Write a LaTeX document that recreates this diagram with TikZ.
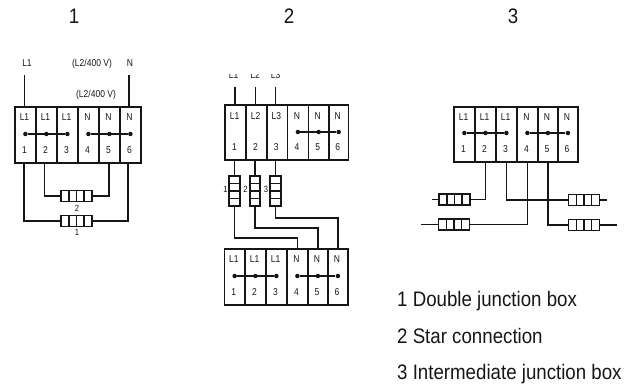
\documentclass[tikz,border=0pt]{standalone}
\usepackage{fontspec}
\setmainfont{Liberation Sans}
\newfontfamily\capfont[FakeStretch=0.89]{Liberation Sans}
\newfontfamily\labfont[FakeStretch=0.85]{Liberation Sans}
\definecolor{ink}{HTML}{161616}
\tikzset{
  x=1pt,y=-1pt,
  wire/.style={draw=ink,line width=1.8pt},
  bus/.style={draw=ink,line width=1.6pt},
  dot/.style={circle,fill=ink,inner sep=0pt,minimum size=4.5pt},
  small/.style={inner sep=0pt,text=ink,font=\labfont\fontsize{10}{12}\selectfont},
  tiny/.style={inner sep=0pt,text=ink,font=\labfont\fontsize{9}{11}\selectfont},
  caption/.style={inner sep=0pt,anchor=base west,text=ink,font=\capfont\fontsize{21}{24}\selectfont},
  title/.style={inner sep=0pt,anchor=base,text=ink,font=\capfont\fontsize{21}{24}\selectfont},
  res/.style={draw=ink,line width=1.8pt,fill=white,inner sep=0pt},
}
\newcommand{\tcell}[7]{% name, x0, x1, top, bottom, label, number
  \node[draw=ink,line width=1.8pt,inner sep=0pt,minimum width={#3-#2},minimum height={#5-#4},anchor=north west] (#1) at (#2,#4) {};
  \node[small] (#1l) at ({(#2+#3)/2},{#4+11.5}) {#6};
  \node[small] (#1n) at ({(#2+#3)/2},{#5-12}) {#7};
}
\newcommand{\hres}[3]{% name, cx, cy
  \node[res,minimum width=31pt,minimum height=11pt] (#1) at (#2,#3) {};
  \foreach \d in {-7.5,0,7.5}{\draw[ink,line width=1.8pt] ({#2+\d},{#3-5.5}) -- ({#2+\d},{#3+5.5});}
}
\newcommand{\vres}[3]{% name, cx, cy
  \node[res,minimum width=10.5pt,minimum height=30pt] (#1) at (#2,#3) {};
  \foreach \d in {-7.5,0,7.5}{\draw[ink,line width=1.8pt] ({#2-5.25},{#3+\d}) -- ({#2+5.25},{#3+\d});}
}
\begin{document}
\begin{tikzpicture}
\useasboundingbox (0,0) rectangle (628,387);
% titles
\node[title] (t1) at (74,24) {1};
\node[title] (t2) at (289,24) {2};
\node[title] (t3) at (513,24) {3};
% ---------- diagram 1
\foreach \n/\a/\b/\l in {1/14/35/L1,2/35/56/L1,3/56/77/L1,4/77/98/N,5/98/119/N,6/119/140/N}
  {\tcell{a\n}{\a}{\b}{106}{162}{\l}{\n}}
\foreach \n in {1,...,6}{\node[dot] (ad\n) at (a\n |- 0,134) {};}
\draw[bus] (ad1) -- (ad3); \draw[bus] (ad4) -- (ad6);
\node[small] (aL) at (27,63) {L1};
\node[small] (aN) at (130,63.5) {N};
\node[small] (aV) at (92,63.5) {(L2/400 V)};
\node[small] (aW) at (96,95) {(L2/400 V)};
\coordinate (aLe) at (24.5,75); \coordinate (aNe) at (129,75);
\draw[wire] (aLe) -- (aLe |- a1.north);
\draw[wire] (aNe) -- (aNe |- a6.north);
\hres{ar2}{76.5}{196}
\hres{ar1}{76.5}{221}
\node[tiny] (ar2t) at (77,208.5) {2};
\node[tiny] (ar1t) at (77,232) {1};
\draw[wire] (24,162) |- (ar1.west);
\draw[wire] (128,162) |- (ar1.east);
\draw[wire] (44.5,162) |- (ar2.west);
\draw[wire] (109,162) |- (ar2.east);
% ---------- diagram 2
\foreach \n/\a/\b/\l in {1/224/245/L1,2/245/266/L2,3/266/286.5/L3,4/286.5/307.5/N,5/307.5/328/N,6/328/347.5/N}
  {\tcell{b\n}{\a}{\b}{104.5}{159}{\l}{\n}}
\foreach \n in {4,5,6}{\node[dot] (bd\n) at (b\n |- 0,132) {};}
\draw[bus] (bd4) -- (bd6);
\begin{scope}
\clip (200,74.5) rectangle (300,90);
\node[small] (bL1) at (233.5,75.5) {L1};
\node[small] (bL2) at (255,75.5) {L2};
\node[small] (bL3) at (275.5,75.5) {L3};
\end{scope}
\coordinate (be1) at (235,87); \coordinate (be2) at (255.5,87); \coordinate (be3) at (275.5,87);
\foreach \i in {1,2,3}{\draw[wire] (be\i) -- (be\i |- b\i.north);}
\vres{br1}{234.5}{191}
\vres{br2}{255}{191}
\vres{br3}{275.5}{191}
\foreach \i/\x in {1/225.5,2/245.5,3/266}{\node[tiny] (brt\i) at (\x,189) {\i};}
\foreach \i in {1,2,3}{\draw[wire] (br\i |- 0,159) -- (br\i.north);}
\foreach \n/\a/\b/\l in {1/223.5/244/L1,2/244/265/L1,3/265/286/L1,4/286/307/N,5/307/327/N,6/327/347/N}
  {\tcell{c\n}{\a}{\b}{248}{304}{\l}{\n}}
\foreach \n in {1,...,6}{\node[dot] (cd\n) at (c\n |- 0,276) {};}
\draw[bus] (cd1) -- (cd3); \draw[bus] (cd4) -- (cd6);
\draw[wire] (br1.south) |- (235,238) -| (c4.north);
\draw[wire] (br2.south) |- (255,228) -| (c5.north);
\draw[wire] (br3.south) |- (275.5,218) -| (c6.north);
% ---------- diagram 3
\foreach \n/\a/\b/\l in {1/453/474/L1,2/474/495/L1,3/495/516/L1,4/516/537/N,5/537/557/N,6/557/577/N}
  {\tcell{d\n}{\a}{\b}{106}{161}{\l}{\n}}
\foreach \n in {1,...,6}{\node[dot] (dd\n) at (d\n |- 0,133) {};}
\draw[bus] (dd1) -- (dd3); \draw[bus] (dd4) -- (dd6);
\hres{dr1}{454.5}{199.5}
\hres{dr2}{454}{224.5}
\hres{dr3}{584}{200}
\hres{dr4}{584}{225}
\coordinate (ds1) at (432,199.5); \coordinate (ds2) at (421,224.5);
\coordinate (ds3) at (607,200); \coordinate (ds4) at (617,225);
\draw[wire] (ds1) -- (dr1.west);
\draw[wire] (ds2) -- (dr2.west);
\draw[wire] (dr3.east) -- (ds3);
\draw[wire] (dr4.east) -- (ds4);
\draw[wire] (d2.south) |- (dr1.east);
\draw[wire] (d4.south) |- (dr2.east);
\draw[wire] (d3.south) |- (dr3.west);
\draw[wire] (d5.south) |- (dr4.west);
% ---------- legend
\node[caption] (k1) at (397,306.7) {1 Double junction box};
\node[caption] (k2) at (397,343) {2 Star connection};
\node[caption] (k3) at (397,379) {3 Intermediate junction box};
\end{tikzpicture}
\end{document}
